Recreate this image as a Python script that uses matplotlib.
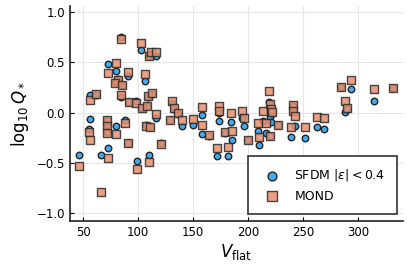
import numpy as np
import matplotlib.pyplot as plt

# galaxies: flat rotation velocity, log10 Q* for SFDM and MOND fits
v_flat = [46.4, 55.5, 56.4, 56.4, 62.0, 66.0, 71.5, 71.5, 72.0, 73.0,
          73.0, 79.7, 79.7, 82.0, 78.5, 85.7, 84.0, 84.5, 88.0, 90.5,
          91.2, 91.8, 97.9, 99.4, 102.7, 103.4, 106.4, 107.3, 108.5, 108.7,
          110.0, 109.7, 111.0, 111.5, 112.4, 116.4, 116.6, 120.9, 131.2, 133.0,
          136.0, 129.0, 139.7, 150.3, 157.9, 158.5, 164.5, 172.0, 174.0, 173.6,
          179.0, 181.5, 184.5, 185.0, 194.3, 196.6, 200.3, 209.4, 210.0, 213.4,
          216.0, 219.4, 220.0, 220.5, 221.5, 220.0, 227.0, 241.2, 241.2, 242.7,
          238.8, 251.8, 262.5, 269.4, 284.5, 293.6, 288.0, 289.7, 314.5, 332.0]
q_sfdm = [-0.42, -0.16, -0.06, 0.17, 0.17, -0.42, -0.07, -0.12, -0.19, -0.35,
          0.48, 0.41, -0.13, 0.33, 0.30, 0.27, 0.755, 0.15, -0.07, -0.30,
          0.36, 0.11, 0.12, -0.48, 0.62, 0.05, 0.31, -0.12, 0.07, 0.15,
          -0.42, 0.56, -0.14, 0.58, 0.18, -0.056, 0.56, -0.30, 0.10, 0.04,
          -0.013, -0.07, -0.135, -0.12, -0.02, -0.21, -0.23, -0.43, -0.086, 0.0,
          -0.20, -0.43, -0.096, -0.27, -0.05, -0.13, -0.27, -0.185, -0.32, -0.08,
          -0.20, 0.11, -0.046, -0.09, 0.0, -0.23, -0.12, 0.07, 0.02, -0.13,
          -0.245, -0.255, -0.145, -0.16, 0.25, 0.235, 0.003, 0.04, 0.12, 0.24]
q_mond = [-0.53, -0.195, -0.27, 0.13, 0.18, -0.79, -0.07, -0.13, -0.20, -0.45,
          0.39, 0.49, -0.21, 0.32, 0.29, 0.27, 0.73, 0.17, -0.106, -0.30,
          0.405, 0.11, 0.10, -0.56, 0.69, 0.047, 0.38, -0.13, 0.066, 0.16,
          -0.49, 0.56, -0.14, 0.60, 0.19, -0.013, 0.60, -0.31, 0.12, 0.047,
          0.0, -0.07, -0.07, -0.063, 0.06, -0.12, -0.22, -0.35, 0.07, 0.013,
          -0.195, -0.34, -0.005, -0.18, 0.02, -0.05, -0.27, -0.10, -0.24, 0.015,
          -0.105, 0.21, 0.086, 0.037, 0.003, -0.23, -0.12, 0.076, 0.02, -0.037,
          -0.145, -0.145, -0.045, -0.05, 0.257, 0.327, 0.12, 0.047, 0.23, 0.24]

fig = plt.figure(figsize=(4.07, 2.72), dpi=100)
ax = fig.add_axes([0.172, 0.1875, 0.818, 0.79])

ax.scatter(v_flat, q_sfdm, s=22, marker='o', color='#3aa6ee', edgecolor='#1a1a1a',
           linewidth=1.0, alpha=0.95, label=r'SFDM $|\varepsilon| < 0.4$', zorder=3)
ax.scatter(v_flat, q_mond, s=28, marker='s', color='#e8906f', edgecolor='#2a2a2a',
           linewidth=1.0, alpha=0.85, label='MOND', zorder=4)

ax.set_xlim(38, 341)
ax.set_ylim(-1.08, 1.06)
ax.set_xticks([50, 100, 150, 200, 250, 300])
ax.set_yticks([-1.0, -0.5, 0.0, 0.5, 1.0])
ax.set_yticklabels(['\u22121.0', '\u22120.5', '0.0', '0.5', '1.0'])
ax.grid(True, color='#e6e6e6', linewidth=0.8)
ax.set_axisbelow(True)
for s in ['top', 'right']:
    ax.spines[s].set_visible(False)
for s in ['left', 'bottom']:
    ax.spines[s].set_linewidth(1.2)
    ax.spines[s].set_color('#222222')
ax.tick_params(direction='in', length=3, labelsize=8.5, width=0.8)

ax.set_xlabel(r'$V_{\rm flat}$', fontsize=12, labelpad=2)
ax.set_ylabel(r'$\log_{10} Q_*$', fontsize=12, labelpad=4)

leg = ax.legend(loc='lower right', fontsize=9, fancybox=False, framealpha=1,
                edgecolor='#333333', borderpad=0.9, handletextpad=0.8,
                markerscale=1.35, borderaxespad=0,
                bbox_to_anchor=(0.982, 0.033))
leg.get_frame().set_linewidth(1.2)

plt.savefig('out.png', dpi=100)
